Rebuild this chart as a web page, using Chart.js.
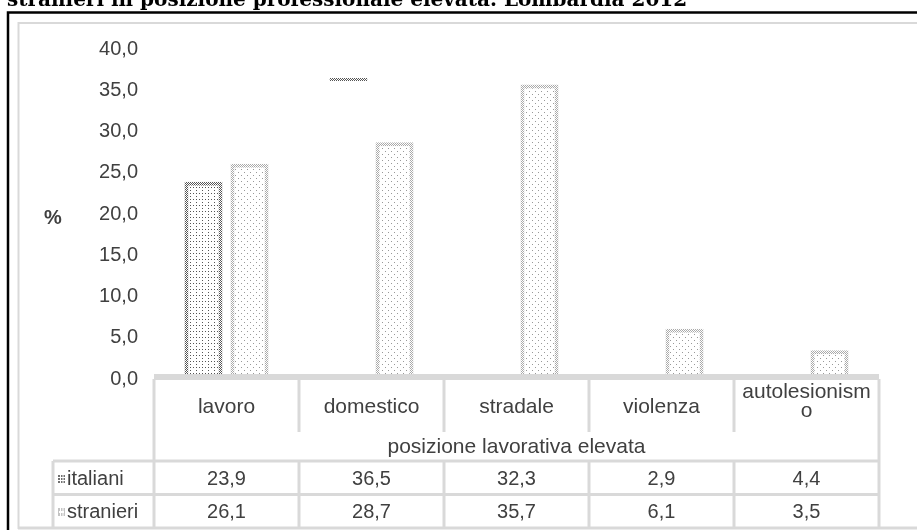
<!DOCTYPE html>
<html>
<head>
<meta charset="utf-8">
<script src="https://cdn.jsdelivr.net/npm/chart.js@4/dist/chart.umd.min.js"></script>
<style>
  html, body { margin: 0; padding: 0; background: #fff; }
  #wrap { width: 917px; height: 530px; position: relative; overflow: hidden; }
</style>
</head>
<body>
<div id="wrap"><canvas id="chart" width="917" height="530"></canvas></div>
<script>
const categories = ['lavoro', 'domestico', 'stradale', 'violenza', 'autolesionismo'];
const italiani = [23.9, 36.5, 32.3, 2.9, 4.4];
const stranieri = [26.1, 28.7, 35.7, 6.1, 3.5];
const seriesNames = ['italiani', 'stranieri'];
const groupLabel = 'posizione lavorativa elevata';
const titleText = 'stranieri in posizione professionale elevata. Lombardia 2012';
const yMin = 0;
const yMax = 40;
const yStep = 5;

const textColor = '#404040';
const lineColor = '#d9d9d9';
const sans = '"Liberation Sans", Arial, sans-serif';

function makePattern(size, bg, color, dots) {
  const c = document.createElement('canvas');
  c.width = c.height = size;
  const g = c.getContext('2d');
  g.fillStyle = bg;
  g.fillRect(0, 0, size, size);
  g.fillStyle = color;
  dots.forEach(([x, y]) => g.fillRect(x, y, 1, 1));
  return g.createPattern(c, 'repeat');
}

const patterns = {
  itaFill: makePattern(6, '#fff', '#555', [[1, 1], [4, 4], [4, 1]]),
  itaEdge: makePattern(2, '#fff', '#555', [[0, 0], [1, 1]]),
  strFill: makePattern(6, '#fff', '#999', [[1, 1], [4, 4]]),
  strEdge: makePattern(2, '#fff', '#aaa', [[0, 0], [1, 1]])
};

const fmt = v => v.toFixed(1).replace('.', ',');

// in the original only the first italiani bar is filled, the second shows its top edge
function itaBackground(ctx) {
  return ctx.dataIndex === 0 ? patterns.itaFill : 'rgba(0,0,0,0)';
}
function itaBorder(ctx) {
  if (ctx.dataIndex === 0) return 4;
  if (ctx.dataIndex === 1) return { top: 3, left: 0, right: 0, bottom: 0 };
  return 0;
}

function wrapText(g, text, maxW) {
  if (g.measureText(text).width <= maxW) return [text];
  let i = text.length;
  while (i > 1 && g.measureText(text.slice(0, i)).width > maxW) i--;
  return [text.slice(0, i), text.slice(i)];
}

const tablePlugin = {
  id: 'tablePlugin',
  afterDraw(chart) {
    const g = chart.ctx;
    const xs = chart.scales.x;
    const left = chart.chartArea.left;
    const right = chart.chartArea.right;
    const colW = (right - left) / categories.length;
    const tableTop = 374;
    const catBottom = 432;
    const row1 = 461;
    const row2 = 494.5;
    const bottom = 528;
    const headLeft = 53;

    g.save();

    // white table body covers the bar feet, as in the original
    g.fillStyle = '#fff';
    g.fillRect(left - 2, tableTop, right - left + 4, bottom - tableTop);

    // title (cut off at the top)
    g.fillStyle = '#000';
    g.font = 'bold 20px "DejaVu Serif", serif';
    g.textAlign = 'left';
    g.textBaseline = 'alphabetic';
    g.fillText(titleText, 7, 6);

    // frames
    g.strokeStyle = '#000';
    g.lineWidth = 2.5;
    g.strokeRect(8, 12.5, 940, 540);
    g.strokeStyle = lineColor;
    g.lineWidth = 2;
    g.strokeRect(18.5, 23, 940, 505);

    // table lines
    const line = (x1, y1, x2, y2) => { g.beginPath(); g.moveTo(x1, y1); g.lineTo(x2, y2); g.stroke(); };
    g.strokeStyle = lineColor;
    g.lineWidth = 6;
    line(left, tableTop + 3, right, tableTop + 3);
    g.lineWidth = 3;
    for (let i = 1; i < categories.length; i++) {
      const x = left + colW * i;
      line(x, tableTop + 5, x, catBottom);
      line(x, row1, x, bottom);
    }
    line(left, tableTop + 5, left, bottom);
    line(right, tableTop + 5, right, bottom);
    line(headLeft, row1, right, row1);
    line(headLeft, row2, right, row2);
    line(18, bottom, 917, bottom);
    line(headLeft, row1, headLeft, bottom);

    // texts
    g.fillStyle = textColor;
    g.textAlign = 'center';
    g.textBaseline = 'middle';
    categories.forEach((c, i) => {
      const cx = xs.getPixelForValue(i);
      g.font = '21px ' + sans;
      const lines = wrapText(g, c, colW - 16);
      if (lines.length === 1) {
        g.fillText(c, cx, 407);
      } else {
        g.fillText(lines[0], cx, 392);
        g.fillText(lines[1], cx, 411);
      }
      g.font = '20px ' + sans;
      g.fillText(fmt(italiani[i]), cx, 479);
      g.fillText(fmt(stranieri[i]), cx, 512);
    });
    g.font = '21px ' + sans;
    g.fillText(groupLabel, (left + right) / 2, 447);

    g.font = '20px ' + sans;
    g.textAlign = 'left';
    g.fillText(seriesNames[0], 67, 479);
    g.fillText(seriesNames[1], 67, 512);

    // legend keys
    g.fillStyle = '#707070';
    g.fillRect(58, 475, 7, 8);
    g.fillStyle = '#c4c4c4';
    g.fillRect(58, 508, 7, 8);
    g.fillStyle = '#fff';
    [60, 62.5].forEach(x => { g.fillRect(x, 475, 1, 8); g.fillRect(x, 508, 1, 8); });
    [477, 480].forEach(y => g.fillRect(58, y, 7, 1));
    g.fillRect(59, 511, 5, 2);

    g.fillStyle = textColor;
    g.font = 'bold 20px ' + sans;
    g.textAlign = 'center';
    g.fillText('%', 53, 218);

    g.restore();
  }
};

new Chart(document.getElementById('chart'), {
  type: 'bar',
  data: {
    labels: categories,
    datasets: [
      {
        label: seriesNames[0],
        data: italiani,
        backgroundColor: itaBackground,
        borderColor: patterns.itaEdge,
        borderWidth: itaBorder,
        borderSkipped: 'start'
      },
      {
        label: seriesNames[1],
        data: stranieri,
        backgroundColor: patterns.strFill,
        borderColor: patterns.strEdge,
        borderWidth: 4,
        borderSkipped: 'start'
      }
    ]
  },
  options: {
    responsive: false,
    animation: false,
    events: [],
    layout: { padding: { left: 0, top: 49, right: 38, bottom: 151 } },
    datasets: {
      bar: { categoryPercentage: 0.635, barPercentage: 0.826 }
    },
    plugins: {
      legend: { display: false },
      tooltip: { enabled: false },
      title: { display: false }
    },
    scales: {
      x: { display: false },
      y: {
        min: yMin,
        max: yMax,
        afterFit: (scale) => { scale.width = 154; },
        ticks: {
          stepSize: yStep,
          color: textColor,
          font: { family: sans, size: 20 },
          padding: 16,
          callback: (v) => fmt(v)
        },
        grid: { display: false, drawTicks: false },
        border: { display: false }
      }
    }
  },
  plugins: [tablePlugin]
});
</script>
</body>
</html>
